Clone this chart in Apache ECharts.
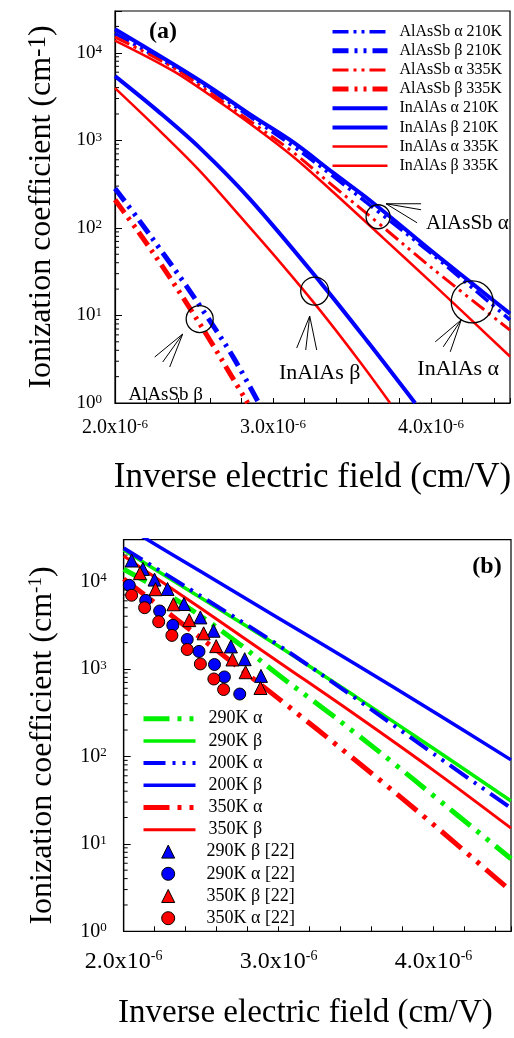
<!DOCTYPE html>
<html>
<head>
<meta charset="utf-8">
<script src="https://cdn.jsdelivr.net/npm/echarts@6/dist/echarts.min.js"></script>
<style>
  html, body { margin: 0; padding: 0; background: #fff; }
  #chart { width: 514px; height: 1038px; }
</style>
</head>
<body>
<div id="chart"></div>
<script>
// Inverse electric field is given in units of 1e-6 cm/V, ionization coefficients in cm^-1.

// ---------- Panel (a): AlAsSb and InAlAs at 210 K / 335 K ----------
const aAlAsSbAlpha210K = [[2.0, 16600], [2.37, 6920], [2.62, 3630], [2.87, 1780], [3.13, 851], [3.38, 389], [3.67, 151], [4.0, 51.3], [4.5, 8.9]];
const aAlAsSbBeta210K  = [[2.0, 282], [2.15, 124], [2.3, 52.5], [2.45, 21.9], [2.6, 8.7], [2.75, 3.3], [2.91, 1.0]];
const aAlAsSbAlpha335K = [[2.0, 15100], [2.37, 6760], [2.62, 3310], [2.87, 1585], [3.13, 724], [3.38, 302], [3.67, 112], [4.0, 35.5], [4.5, 6.8]];
const aAlAsSbBeta335K  = [[2.0, 209], [2.15, 89.1], [2.3, 36.3], [2.45, 14.1], [2.6, 5.25], [2.75, 1.86], [2.84, 1.0]];
const aInAlAsAlpha210K = [[2.0, 18600], [2.37, 7400], [2.62, 3850], [2.87, 1900], [3.13, 945], [3.38, 427], [3.63, 195], [4.0, 55], [4.25, 24], [4.5, 10.5]];
const aInAlAsBeta210K  = [[2.0, 5410], [2.272, 2155], [2.538, 815], [2.854, 213], [3.304, 23.4], [3.601, 4.97], [3.899, 1.0]];
const aInAlAsAlpha335K = [[2.0, 13800], [2.37, 6170], [2.62, 3090], [2.87, 1480], [3.13, 646], [3.38, 257], [3.7, 75.9], [4.0, 24], [4.5, 3.4]];
const aInAlAsBeta335K  = [[2.0, 3945], [2.285, 1274], [2.538, 445], [2.791, 136], [3.044, 40.7], [3.297, 11.5], [3.551, 2.94], [3.741, 1.0]];

// ringed call-outs in panel (a): text and the point each ring marks
const calloutText = ['AlAsSb \u03b1', 'InAlAs \u03b2', 'InAlAs \u03b1', 'AlAsSb \u03b2'];
const calloutAt = [[3.665, 134], [3.264, 19], [4.261, 14.3], [2.536, 9.1]];

// ---------- Panel (b): temperature dependence ----------
const b290KAlpha = [[2.0, 13800], [2.25, 7760], [2.5, 3980], [2.75, 1905], [3.0, 851], [3.25, 398], [3.5, 182], [3.75, 81.3], [4.0, 35.5], [4.25, 15.5], [4.5, 6.76]];
const b290KBeta  = [[2.0, 22900], [2.5, 6460], [3.0, 1820], [3.5, 479], [4.0, 123], [4.5, 30.9]];
const b200KAlpha = [[2.0, 23990], [2.5, 6760], [3.0, 1862], [3.5, 457], [4.0, 107], [4.5, 25.7]];
const b200KBeta  = [[2.0, 43650], [2.5, 12880], [3.0, 3800], [3.5, 1122], [4.0, 324], [4.5, 91.2]];
const b350KAlpha = [[2.0, 10700], [2.5, 2240], [3.0, 457], [3.5, 89.1], [4.0, 16.6], [4.5, 2.88]];
const b350KBeta  = [[2.0, 19500], [2.5, 4900], [3.0, 1202], [3.5, 295], [4.0, 69.2], [4.5, 15.1]];

// measured points from ref. [22]
const b290KBetaRef  = [[2.051, 17340], [2.124, 13900], [2.199, 10500], [2.283, 8200], [2.389, 5520], [2.495, 3880], [2.58, 2730], [2.692, 1807], [2.781, 1291], [2.886, 832]];
const b290KAlphaRef = [[2.036, 9040], [2.142, 6080], [2.232, 4590], [2.317, 3150], [2.41, 2170], [2.486, 1585], [2.586, 1122], [2.65, 809], [2.749, 516]];
const b350KBetaRef  = [[2.105, 12420], [2.205, 8150], [2.321, 5480], [2.423, 3610], [2.516, 2550], [2.597, 1820], [2.702, 1282], [2.787, 916], [2.883, 605]];
const b350KAlphaRef = [[2.051, 6950], [2.135, 5010], [2.226, 3460], [2.311, 2415], [2.41, 1667], [2.495, 1140], [2.582, 767], [2.645, 581]];

// ---------- axes ----------
const fieldMin = 2.0, fieldMax = 4.5, fieldStep = 0.2;
const fieldMajorTicks = [2, 3, 4];
const coeffMin = 1, coeffMax = 30000;
const coeffMinorTicks = [2, 3, 4, 5, 6, 7, 8, 9, 20, 30, 40, 50, 60, 70, 80, 90,
  200, 300, 400, 500, 600, 700, 800, 900, 2000, 3000, 4000, 5000, 6000, 7000, 8000, 9000, 20000];

const FONT = '"Liberation Serif", "Times New Roman", serif';
const BLUE = '#0000ff', RED = '#ff0000', GREEN = '#00f000';
const DASH_A = [16, 5, 3, 5, 3, 5];
const DASH_A_THICK = [16, 6, 3, 6, 3, 6];
const DASH_B = [26, 8, 4, 8, 4, 8];
const DASH_B_BLUE = [22, 7, 3, 7, 3, 7];

function curve(name, data, grid, color, width, dash, smooth) {
  return {
    name, type: 'line', data, xAxisIndex: grid, yAxisIndex: grid,
    symbol: 'none', smooth: smooth ? 0.35 : false, clip: true,
    lineStyle: { color, width, type: dash || 'solid', cap: 'butt' },
    itemStyle: { color }, z: 3
  };
}
function marks(name, data, color, symbol) {
  return {
    name, type: 'scatter', data, xAxisIndex: 1, yAxisIndex: 1,
    symbol, symbolSize: symbol === 'triangle' ? 13 : 12,
    itemStyle: { color, borderColor: '#000', borderWidth: 1, opacity: 1 }, z: 5
  };
}

function xAxisFor(grid, labelSize, supSize, margin, nameGap, nameSize, namePad) {
  return {
    gridIndex: grid, type: 'value', min: fieldMin, max: fieldMax, interval: fieldStep,
    axisLine: { show: true, onZero: false, lineStyle: { color: '#000', width: 1.2 } },
    axisTick: { show: true, inside: true, length: 5, lineStyle: { color: '#000', width: 1 } },
    splitLine: { show: false },
    axisLabel: {
      margin,
      formatter: v => fieldMajorTicks.some(t => Math.abs(t - v) < 1e-6) ? `{n|${v.toFixed(1)}x10}{s|-6}` : '',
      rich: {
        n: { fontFamily: FONT, fontSize: labelSize, color: '#000', lineHeight: labelSize },
        s: { fontFamily: FONT, fontSize: supSize, color: '#000', verticalAlign: 'top', lineHeight: supSize }
      }
    },
    name: 'Inverse electric field (cm/V)', nameLocation: 'middle', nameGap,
    nameTextStyle: { fontFamily: FONT, fontSize: nameSize, color: '#000', padding: namePad }
  };
}
function yAxisFor(grid, labelSize, supSize, margin, nameGap, nameSize, titleSup, namePad) {
  return {
    gridIndex: grid, type: 'log', logBase: 10, min: coeffMin, max: coeffMax,
    axisLine: { show: true, onZero: false, lineStyle: { color: '#000', width: 1.2 } },
    axisTick: { show: true, inside: true, length: 7, lineStyle: { color: '#000', width: 1 } },
    splitLine: { show: false },
    axisLabel: {
      margin,
      formatter: v => {
        const e = Math.log10(v);
        return Math.abs(e - Math.round(e)) < 1e-6 ? `{n|10}{s|${Math.round(e)}}` : '';
      },
      rich: {
        n: { fontFamily: FONT, fontSize: labelSize, color: '#000', lineHeight: labelSize },
        s: { fontFamily: FONT, fontSize: supSize, color: '#000', verticalAlign: 'top', lineHeight: supSize }
      }
    },
    name: '{t|Ionization coefficient (cm}{s|-1}{t|)}', nameLocation: 'middle', nameGap, nameRotate: 90,
    nameTextStyle: {
      padding: namePad,
      rich: {
        t: { fontFamily: FONT, fontSize: nameSize, color: '#000', lineHeight: nameSize },
        s: { fontFamily: FONT, fontSize: titleSup, color: '#000', verticalAlign: 'top', lineHeight: titleSup }
      }
    }
  };
}

// short inward minor ticks at 2..9 x 10^n on the log axis
function minorTicks(grid) {
  return {
    type: 'custom', xAxisIndex: grid, yAxisIndex: grid, silent: true, z: 2,
    data: coeffMinorTicks.map(v => [fieldMin, v]),
    renderItem: (params, api) => {
      const p = api.coord([api.value(0), api.value(1)]);
      return { type: 'line', shape: { x1: p[0], y1: p[1], x2: p[0] + 4, y2: p[1] },
               style: { stroke: '#000', lineWidth: 1 } };
    }
  };
}

// ring + leader lines + caption, offsets in px from the ring centre
const calloutLayout = [
  { r: 12,   apex: [8, -13],  ends: [[43, -13], [43, -7], [39, 6]],    text: [48, 7],   align: 'left',   size: 21 },
  { r: 14,   apex: [-5, 25],  ends: [[-18, 57], [-9, 59], [2, 59]],   text: [5, 82],   align: 'center', size: 22 },
  { r: 21,   apex: [-11, 18], ends: [[-37, 40], [-29, 45], [-22, 50]], text: [-14, 67], align: 'center', size: 22 },
  { r: 13.5, apex: [-17, 15], ends: [[-45, 38], [-37, 43], [-30, 48]], text: [-34, 76], align: 'center', size: 19 }
];
const callouts = {
  type: 'custom', xAxisIndex: 0, yAxisIndex: 0, silent: true, z: 6, clip: false,
  data: calloutAt,
  renderItem: (params, api) => {
    const c = api.coord([api.value(0), api.value(1)]);
    const L = calloutLayout[params.dataIndex];
    const children = [{
      type: 'circle', shape: { cx: c[0], cy: c[1], r: L.r },
      style: { fill: 'none', stroke: '#000', lineWidth: 1.3 }
    }];
    L.ends.forEach(e => children.push({
      type: 'line',
      shape: { x1: c[0] + L.apex[0], y1: c[1] + L.apex[1], x2: c[0] + e[0], y2: c[1] + e[1] },
      style: { stroke: '#000', lineWidth: 1 }
    }));
    children.push({
      type: 'text', x: c[0] + L.text[0], y: c[1] + L.text[1],
      style: { text: calloutText[params.dataIndex], fill: '#000',
               font: `${L.size}px ${FONT}`, align: L.align, verticalAlign: 'middle' }
    });
    return { type: 'group', children };
  }
};

const legendA = [
  'AlAsSb \u03b1 210K', 'AlAsSb \u03b2 210K', 'AlAsSb \u03b1 335K', 'AlAsSb \u03b2 335K',
  'InAlAs \u03b1 210K', 'InAlAs \u03b2 210K', 'InAlAs \u03b1 335K', 'InAlAs \u03b2 335K'
];
const legendBLines = ['290K \u03b1', '290K \u03b2', '200K \u03b1', '200K \u03b2', '350K \u03b1', '350K \u03b2'];
const legendBMarks = ['290K \u03b2 [22]', '290K \u03b1 [22]', '350K \u03b2 [22]', '350K \u03b1 [22]'];
const lineOnly = name => ({ name, itemStyle: { opacity: 0 } });

const chart = echarts.init(document.getElementById('chart'), null, { renderer: 'canvas' });
chart.setOption({
  animation: false,
  backgroundColor: '#fff',
  textStyle: { fontFamily: FONT },
  grid: [
    { left: 115, top: 11, width: 395, height: 392, show: true, borderColor: '#000', borderWidth: 1.2, backgroundColor: 'transparent' },
    { left: 123.7, top: 539.7, width: 393.7, height: 391.6, show: true, borderColor: '#000', borderWidth: 1.2, backgroundColor: 'transparent' }
  ],
  xAxis: [
    xAxisFor(0, 20, 13, 15, 57, 35, [0, 0, 0, 0]),
    xAxisFor(1, 24, 14, 18, 66, 33, [0, 24, 0, 0])
  ],
  yAxis: [
    yAxisFor(0, 19, 13, 13, 57, 32, 25, [0, 0, 0, 0]),
    yAxisFor(1, 20, 13, 17, 65, 32, 19, [0, 20, 0, 0])
  ],
  legend: [
    {
      data: legendA.map(lineOnly), orient: 'vertical', left: 330, top: 23.7, padding: 0,
      itemWidth: 55, itemHeight: 12, itemGap: 3.14, selectedMode: false,
      lineStyle: { width: 'inherit', type: 'inherit' },
      textStyle: { fontFamily: FONT, fontSize: 16, color: '#000', padding: [0, 0, 0, 7] }
    },
    {
      data: legendBLines.map(lineOnly),
      orient: 'vertical', left: 141, top: 709.7, padding: 0,
      itemWidth: 52, itemHeight: 13, itemGap: 4.2, selectedMode: false,
      lineStyle: { width: 'inherit', type: 'inherit' },
      textStyle: { fontFamily: FONT, fontSize: 18, color: '#000', padding: [0, 0, 0, 8] }
    },
    {
      data: legendBMarks,
      orient: 'vertical', left: 161.2, top: 842.6, padding: 0,
      itemWidth: 13, itemHeight: 13, itemGap: 4.2, selectedMode: false,
      itemStyle: { borderWidth: 1, borderColor: '#000', opacity: 1 },
      textStyle: { fontFamily: FONT, fontSize: 18, color: '#000', padding: [0, 0, 0, 26.8] }
    }
  ],
  graphic: [
    { type: 'text', x: 163, y: 32, style: { text: '(a)', font: `bold 24px ${FONT}`, fill: '#000', align: 'center', verticalAlign: 'middle' } },
    { type: 'text', x: 487, y: 567, style: { text: '(b)', font: `bold 24px ${FONT}`, fill: '#000', align: 'center', verticalAlign: 'middle' } }
  ],
  series: [
    curve('AlAsSb \u03b1 210K', aAlAsSbAlpha210K, 0, BLUE, 3.5, DASH_A, true),
    curve('AlAsSb \u03b2 210K', aAlAsSbBeta210K, 0, BLUE, 5, DASH_A_THICK, true),
    curve('AlAsSb \u03b1 335K', aAlAsSbAlpha335K, 0, RED, 3, DASH_A, true),
    curve('AlAsSb \u03b2 335K', aAlAsSbBeta335K, 0, RED, 5, DASH_A_THICK, true),
    curve('InAlAs \u03b1 210K', aInAlAsAlpha210K, 0, BLUE, 4, null, true),
    curve('InAlAs \u03b2 210K', aInAlAsBeta210K, 0, BLUE, 4, null, true),
    curve('InAlAs \u03b1 335K', aInAlAsAlpha335K, 0, RED, 2.5, null, true),
    curve('InAlAs \u03b2 335K', aInAlAsBeta335K, 0, RED, 2.5, null, true),
    minorTicks(0),
    callouts,

    curve('290K \u03b2', b290KBeta, 1, GREEN, 3.5, null, true),
    curve('200K \u03b1', b200KAlpha, 1, BLUE, 4, DASH_B_BLUE, true),
    curve('200K \u03b2', b200KBeta, 1, BLUE, 3.5, null, true),
    curve('290K \u03b1', b290KAlpha, 1, GREEN, 5, DASH_B, true),
    curve('350K \u03b1', b350KAlpha, 1, RED, 5, DASH_B, true),
    curve('350K \u03b2', b350KBeta, 1, RED, 3, null, true),
    marks('290K \u03b2 [22]', b290KBetaRef, BLUE, 'triangle'),
    marks('290K \u03b1 [22]', b290KAlphaRef, BLUE, 'circle'),
    marks('350K \u03b2 [22]', b350KBetaRef, RED, 'triangle'),
    marks('350K \u03b1 [22]', b350KAlphaRef, RED, 'circle'),
    minorTicks(1)
  ]
});
</script>
</body>
</html>
